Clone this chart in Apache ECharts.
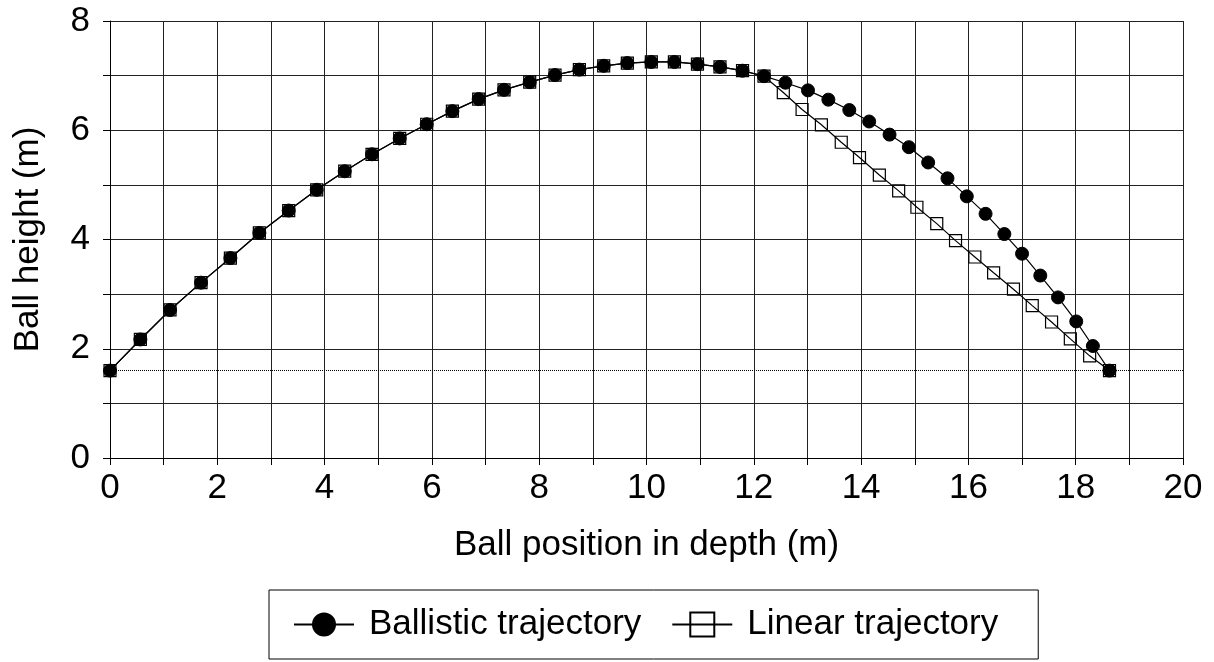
<!DOCTYPE html>
<html>
<head>
<meta charset="utf-8">
<script src="https://cdn.jsdelivr.net/npm/echarts@6/dist/echarts.min.js"></script>
<style>
  html, body { margin: 0; padding: 0; background: #fff; }
  #chart { width: 1214px; height: 662px; }
</style>
</head>
<body>
<div id="chart"></div>
<script>
// ballistic trajectory (m)
const ballisticX = [0, 0.566, 1.119, 1.697, 2.244, 2.784, 3.331, 3.853, 4.375, 4.884, 5.40, 5.903, 6.382, 6.872, 7.344, 7.823, 8.295, 8.749, 9.202, 9.643, 10.09, 10.52, 10.95, 11.37, 11.79, 12.19, 12.59, 13.01, 13.39, 13.78, 14.15, 14.53, 14.89, 15.25, 15.61, 15.97, 16.32, 16.67, 17.00, 17.34, 17.67, 18.01, 18.32, 18.63]
const ballisticY = [1.60, 2.17, 2.71, 3.21, 3.66, 4.12, 4.53, 4.91, 5.25, 5.56, 5.85, 6.11, 6.35, 6.57, 6.74, 6.88, 7.01, 7.11, 7.18, 7.23, 7.25, 7.25, 7.21, 7.16, 7.09, 6.99, 6.87, 6.73, 6.56, 6.37, 6.16, 5.92, 5.69, 5.41, 5.12, 4.79, 4.47, 4.10, 3.74, 3.34, 2.94, 2.50, 2.05, 1.60]
// linear trajectory (m)
const linearX = [0, 0.566, 1.119, 1.697, 2.244, 2.784, 3.331, 3.853, 4.375, 4.884, 5.40, 5.903, 6.382, 6.872, 7.344, 7.823, 8.295, 8.749, 9.202, 9.643, 10.09, 10.52, 10.95, 11.37, 11.79, 12.19, 12.55, 12.90, 13.26, 13.63, 13.97, 14.34, 14.70, 15.04, 15.41, 15.76, 16.12, 16.47, 16.84, 17.19, 17.55, 17.90, 18.26, 18.63]
const linearY = [1.60, 2.17, 2.71, 3.21, 3.66, 4.12, 4.53, 4.91, 5.25, 5.56, 5.85, 6.11, 6.35, 6.57, 6.74, 6.88, 7.01, 7.11, 7.18, 7.23, 7.25, 7.25, 7.21, 7.16, 7.09, 6.99, 6.69, 6.38, 6.10, 5.78, 5.50, 5.18, 4.89, 4.59, 4.29, 3.98, 3.68, 3.39, 3.09, 2.79, 2.49, 2.18, 1.87, 1.60]
// launch height, dotted reference line
const groundLevel = 1.6
const seriesNames = ['Ballistic trajectory', 'Linear trajectory']

const font = 'Liberation Sans, Arial, sans-serif'
const fontSize = 35
const gridLine = { show: true, lineStyle: { color: '#222', width: 1 } }

const chart = echarts.init(document.getElementById('chart'))

const pairs = (xs, ys) => xs.map((x, i) => [x, ys[i]])

chart.setOption({
    animation: false,
    textStyle: { fontFamily: font, color: '#000' },
    grid: { left: 110, right: 31, top: 21, bottom: 204 },
    legend: {
        data: seriesNames,
        bottom: 3,
        left: 269,
        borderColor: '#000',
        borderWidth: 1,
        padding: [17, 40, 17, 24],
        itemWidth: 60,
        itemHeight: 30,
        itemGap: 30,
        textStyle: { fontSize: fontSize, fontFamily: font, color: '#000', padding: [0, 0, 0, 10] }
    },
    xAxis: {
        type: 'value',
        min: 0, max: 20, interval: 2,
        name: 'Ball position in depth (m)',
        nameLocation: 'middle',
        nameGap: 70,
        nameTextStyle: { fontSize: fontSize, fontFamily: font, color: '#000' },
        axisLine: { show: true, onZero: false, lineStyle: { color: '#000' } },
        axisTick: { show: true, length: 7, lineStyle: { color: '#000' } },
        minorTick: { show: true, splitNumber: 2, length: 7, lineStyle: { color: '#000' } },
        axisLabel: { fontSize: fontSize, margin: 13, color: '#000', fontFamily: font },
        splitLine: gridLine,
        minorSplitLine: gridLine
    },
    yAxis: {
        type: 'value',
        min: 0, max: 8, interval: 2,
        name: 'Ball height (m)',
        nameLocation: 'middle',
        nameGap: 64,
        nameTextStyle: { fontSize: fontSize, fontFamily: font, color: '#000' },
        axisLine: { show: true, lineStyle: { color: '#000' } },
        axisTick: { show: true, length: 7, lineStyle: { color: '#000' } },
        minorTick: { show: true, splitNumber: 2, length: 7, lineStyle: { color: '#000' } },
        axisLabel: { fontSize: fontSize, margin: 20, color: '#000', fontFamily: font },
        splitLine: gridLine,
        minorSplitLine: gridLine
    },
    series: [
        {
            name: seriesNames[1],
            type: 'line',
            z: 2,
            data: pairs(linearX, linearY),
            symbol: 'rect',
            symbolSize: 12,
            lineStyle: { color: '#000', width: 1.2 },
            // hollow squares, line shows through
            itemStyle: { color: 'rgba(255,255,255,0)', borderColor: '#000', borderWidth: 1.2 },
            markLine: {
                silent: true,
                symbol: 'none',
                label: { show: false },
                lineStyle: { color: '#000', type: 'dotted', width: 1 },
                data: [{ yAxis: groundLevel }]
            }
        },
        {
            name: seriesNames[0],
            type: 'line',
            z: 3,
            data: pairs(ballisticX, ballisticY),
            symbol: 'circle',
            symbolSize: 13,
            lineStyle: { color: '#000', width: 1.2 },
            itemStyle: { color: '#000', borderColor: '#000' }
        }
    ]
})
</script>
</body>
</html>
